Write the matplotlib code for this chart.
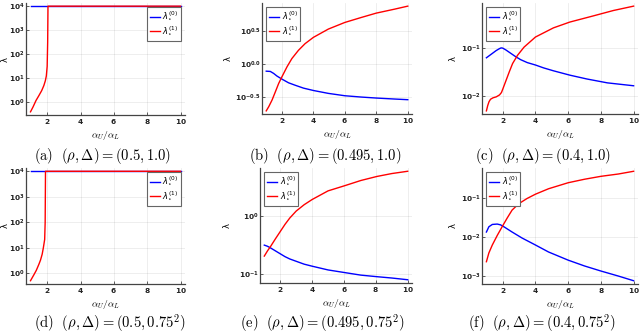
import numpy as np
import matplotlib
matplotlib.use("Agg")
import matplotlib.pyplot as plt

# -------------------------
# data (log10 of lambda)
# -------------------------
a_blue_x = [1.0, 10.0]
a_blue_log = [4.0, 4.0]
a_red_x = [1.0, 1.15, 1.33, 1.5, 1.67, 1.8, 1.89, 1.95, 2.0, 2.03, 2.05, 10.0]
a_red_log = [-0.39, -0.19, 0.08, 0.28, 0.49, 0.7, 0.9, 1.1, 1.5, 2.5, 4.0, 4.0]

b_blue_x = [1.0, 1.26, 1.47, 1.68, 2.0, 2.42, 2.84, 3.37, 4.0, 4.95, 6.0, 7.05, 8.0, 9.16, 10.0]
b_blue_log = [-0.106, -0.11, -0.14, -0.18, -0.227, -0.283, -0.32, -0.364, -0.40,
              -0.444, -0.48, -0.5, -0.515, -0.53, -0.54]
b_red_x = [1.0, 1.16, 1.37, 1.58, 1.79, 2.0, 2.32, 2.63, 3.05, 3.47, 4.0, 4.95,
           6.0, 7.05, 8.0, 9.16, 10.0]
b_red_log = [-0.71, -0.646, -0.545, -0.42, -0.293, -0.19, -0.04, 0.086, 0.212,
             0.313, 0.409, 0.535, 0.636, 0.712, 0.778, 0.838, 0.884]

c_blue_x = [1.0, 1.2, 1.4, 1.6, 1.8, 1.9, 2.0, 2.2, 2.5, 2.8, 3.1, 3.5, 4.0,
            4.5, 5.1, 6.1, 7.15, 8.4, 10.0]
c_blue_log = [-1.21, -1.16, -1.11, -1.06, -1.02, -1.005, -1.01, -1.05, -1.12,
              -1.19, -1.25, -1.31, -1.36, -1.42, -1.48, -1.57, -1.65, -1.73, -1.79]
c_red_x = [1.0, 1.08, 1.16, 1.25, 1.4, 1.6, 1.8, 1.92, 2.0, 2.1, 2.2, 2.4, 2.6,
           2.9, 3.3, 4.0, 5.1, 6.1, 7.56, 8.77, 10.0]
c_red_log = [-2.31, -2.2, -2.12, -2.07, -2.04, -2.02, -1.98, -1.93, -1.86, -1.77,
             -1.68, -1.5, -1.33, -1.16, -0.99, -0.78, -0.59, -0.47, -0.34, -0.23, -0.14]

d_blue_x = [1.0, 10.0]
d_blue_log = [4.0, 4.0]
d_red_x = [1.0, 1.2, 1.35, 1.5, 1.6, 1.7, 1.77, 1.85, 1.88, 1.9, 10.0]
d_red_log = [-0.3, -0.07, 0.11, 0.34, 0.51, 0.74, 0.99, 1.32, 2.0, 4.0, 4.0]

e_blue_x = [1.0, 1.2, 1.4, 1.7, 2.0, 2.3, 2.6, 3.0, 3.5, 4.0, 5.0, 6.05, 7.06,
            8.07, 9.0, 10.0]
e_blue_log = [-0.5, -0.52, -0.55, -0.6, -0.65, -0.7, -0.74, -0.78, -0.83, -0.865,
              -0.93, -0.976, -1.02, -1.047, -1.07, -1.1]
e_red_x = [1.0, 1.2, 1.4, 1.7, 2.0, 2.3, 2.6, 3.0, 3.5, 4.0, 5.0, 6.05, 7.06,
           8.07, 9.0, 10.0]
e_red_log = [-0.69, -0.6, -0.52, -0.39, -0.265, -0.14, -0.03, 0.09, 0.2, 0.29,
             0.44, 0.53, 0.62, 0.69, 0.74, 0.78]

f_blue_x = [1.0, 1.15, 1.36, 1.66, 1.86, 2.07, 2.57, 3.18, 4.0, 4.8, 6.0, 7.0,
            8.0, 9.07, 10.0]
f_blue_log = [-1.865, -1.73, -1.67, -1.66, -1.68, -1.73, -1.865, -2.02, -2.2,
              -2.38, -2.59, -2.74, -2.87, -3.0, -3.12]
f_red_x = [1.0, 1.15, 1.36, 1.66, 1.96, 2.27, 2.57, 2.98, 3.49, 4.0, 4.8, 6.0,
           7.0, 8.0, 9.07, 10.0]
f_red_log = [-2.63, -2.405, -2.2, -1.955, -1.73, -1.505, -1.3, -1.135, -1.0,
             -0.89, -0.75, -0.595, -0.505, -0.43, -0.37, -0.3]

captions = [r"$\mathrm{(a)}\ \ (\rho, \Delta) = (0.5, 1.0)$",
            r"$\mathrm{(b)}\ \ (\rho, \Delta) = (0.495, 1.0)$",
            r"$\mathrm{(c)}\ \ (\rho, \Delta) = (0.4, 1.0)$",
            r"$\mathrm{(d)}\ \ (\rho, \Delta) = (0.5, 0.75^2)$",
            r"$\mathrm{(e)}\ \ (\rho, \Delta) = (0.495, 0.75^2)$",
            r"$\mathrm{(f)}\ \ (\rho, \Delta) = (0.4, 0.75^2)$"]

ytick_exps = [[0, 1, 2, 3, 4], [-0.5, 0.0, 0.5], [-2, -1],
              [0, 1, 2, 3, 4], [-1, 0], [-3, -2, -1]]
ytick_labels = [[r"$\mathbf{10^{0}}$", r"$\mathbf{10^{1}}$", r"$\mathbf{10^{2}}$",
                 r"$\mathbf{10^{3}}$", r"$\mathbf{10^{4}}$"],
                [r"$\mathbf{10^{-0.5}}$", r"$\mathbf{10^{0.0}}$", r"$\mathbf{10^{0.5}}$"],
                [r"$\mathbf{10^{-2}}$", r"$\mathbf{10^{-1}}$"],
                [r"$\mathbf{10^{0}}$", r"$\mathbf{10^{1}}$", r"$\mathbf{10^{2}}$",
                 r"$\mathbf{10^{3}}$", r"$\mathbf{10^{4}}$"],
                [r"$\mathbf{10^{-1}}$", r"$\mathbf{10^{0}}$"],
                [r"$\mathbf{10^{-3}}$", r"$\mathbf{10^{-2}}$", r"$\mathbf{10^{-1}}$"]]
xtick_vals = [2, 4, 6, 8, 10]

panels = [(a_blue_x, a_blue_log, a_red_x, a_red_log),
          (b_blue_x, b_blue_log, b_red_x, b_red_log),
          (c_blue_x, c_blue_log, c_red_x, c_red_log),
          (d_blue_x, d_blue_log, d_red_x, d_red_log),
          (e_blue_x, e_blue_log, e_red_x, e_red_log),
          (f_blue_x, f_blue_log, f_red_x, f_red_log)]

legend_locs = ["upper right", "upper left", "upper left",
               "upper right", "upper left", "upper left"]

# -------------------------
# layout (pixels -> figure fractions)
# -------------------------
fig = plt.figure(figsize=(6.4, 3.34), dpi=100)
W, H = 640.0, 334.0
lefts = [26, 262, 482, 26, 260, 482]
rights = [185, 412, 638, 185, 412, 638]
tops = [3, 3, 3, 168, 168, 168]
bottoms = [115, 114, 114, 284, 283, 284]
cap_x = [102, 325, 543, 110, 322, 542]
cap_y = [156, 156, 156, 323, 323, 323]
ylab_x = [5, 228, 453, 5, 227, 453]

for i, (bx, by, rx, ry) in enumerate(panels):
    ax = fig.add_axes([lefts[i] / W, 1 - bottoms[i] / H,
                       (rights[i] - lefts[i]) / W, (bottoms[i] - tops[i]) / H])
    ax.plot(bx, 10 ** np.array(by), color="#0000ff", lw=1.0,
            label=r"$\lambda_{\star}^{(0)}$")
    ax.plot(rx, 10 ** np.array(ry), color="#ff0000", lw=1.0,
            label=r"$\lambda_{\star}^{(1)}$")
    ax.set_yscale("log")
    ax.margins(x=0.03, y=0.03)
    ax.set_xticks(xtick_vals)
    ax.set_xticklabels([r"$\mathbf{%d}$" % v for v in xtick_vals])
    ax.set_yticks([10.0 ** e for e in ytick_exps[i]])
    ax.set_yticklabels(ytick_labels[i])
    ax.yaxis.set_minor_locator(matplotlib.ticker.NullLocator())
    ax.grid(True, color="black", alpha=0.08, lw=0.6)
    for s in ["top", "right"]:
        ax.spines[s].set_visible(False)
    for s in ["left", "bottom"]:
        ax.spines[s].set_color("#444444")
        ax.spines[s].set_linewidth(0.9)
    ax.tick_params(direction="in", length=2, width=0.5, labelsize=5.3,
                   pad=1.5, colors="#222222")
    ax.tick_params(axis="y", pad=0.8)
    ax.set_xlabel(r"$\alpha_U/\alpha_L$", fontsize=7, math_fontfamily="cm",
                  labelpad=2)
    fig.text(ylab_x[i] / W, 1 - ((tops[i] + bottoms[i]) / 2) / H, "λ",
             rotation=90, fontsize=6, ha="center", va="center")
    leg = ax.legend(loc=legend_locs[i], fontsize=6, fancybox=False,
                    framealpha=1, edgecolor="#666666", handlelength=1.2,
                    handletextpad=0.3, borderaxespad=0.5, labelspacing=0.2,
                    borderpad=0.35)
    leg.get_frame().set_linewidth(0.8)
    fig.text(cap_x[i] / W, 1 - cap_y[i] / H, captions[i], fontsize=10.5,
             math_fontfamily="cm", ha="center", va="center")

plt.savefig("out.png", dpi=100)
